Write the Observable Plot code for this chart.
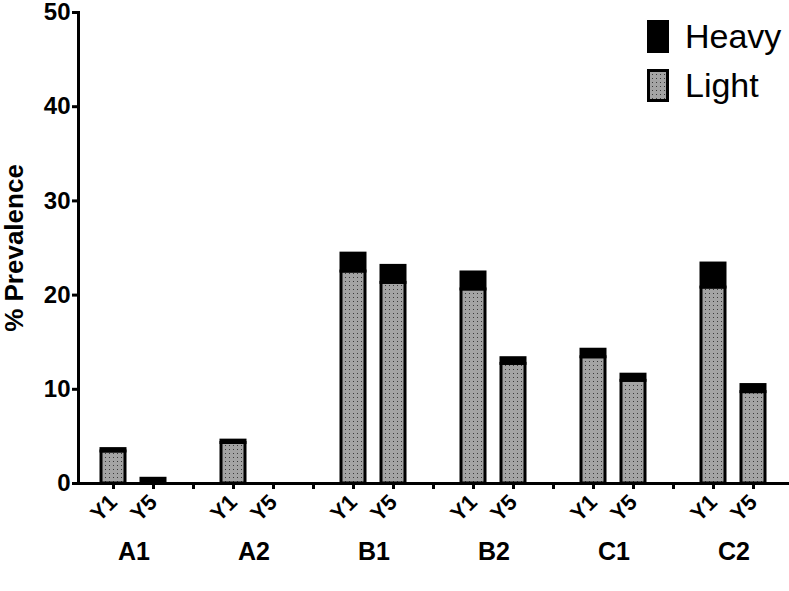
<!DOCTYPE html>
<html>
<head>
<meta charset="utf-8">
<script src="https://cdn.jsdelivr.net/npm/d3@7"></script>
<script src="https://cdn.jsdelivr.net/npm/@observablehq/plot@0.6"></script>
<style>
  html, body { margin: 0; padding: 0; background: #fff; }
  #wrap { position: relative; width: 789px; height: 591px; font-family: "Liberation Sans", Arial, Helvetica, sans-serif; }
  #wrap svg text { font-family: "Liberation Sans", Arial, Helvetica, sans-serif; }
  #legend { position: absolute; left: 647px; top: 12px; }
  .lg-row { display: flex; align-items: center; height: 49px; }
  .lg-row svg { margin-right: 16px; }
  .lg-row span { font-size: 34px; color: #000; }
</style>
</head>
<body>
<div id="wrap">
  <div id="legend">
    <div class="lg-row"><svg width="22" height="33"><rect x="1.5" y="1.5" width="19" height="30" fill="#000" stroke="#000" stroke-width="3"/></svg><span>Heavy</span></div>
    <div class="lg-row"><svg width="22" height="33"><rect x="1.5" y="1.5" width="19" height="30" fill="url(#dots)" stroke="#000" stroke-width="3"/></svg><span>Light</span></div>
  </div>
</div>
<script>
// ---- data ----
const groups = ["A1", "A2", "B1", "B2", "C1", "C2"];
const years = ["Y1", "Y5"];
// values in group order, Y1 then Y5 within each group
const light = [3.4, 0, 4.3, 0, 22.5, 21.3, 20.6, 12.7, 13.4, 10.9, 20.8, 9.7];
const heavy = [0.25, 0.5, 0.25, 0, 1.9, 1.8, 1.8, 0.6, 0.8, 0.65, 2.55, 0.75];
const yTicks = [0, 10, 20, 30, 40, 50];
const seriesNames = ["Light", "Heavy"];

// ---- build slots (Y1, Y5, gap) ----
const slots = [];
groups.forEach((g, i) => {
  years.forEach(y => slots.push(g + " " + y));
  if (i < groups.length - 1) slots.push("gap" + i);
});

const rows = [];
groups.forEach((g, i) => {
  years.forEach((y, j) => {
    const k = i * years.length + j;
    rows.push({slot: g + " " + y, type: "Light", value: light[k]});
  });
});
groups.forEach((g, i) => {
  years.forEach((y, j) => {
    const k = i * years.length + j;
    rows.push({slot: g + " " + y, type: "Heavy", value: heavy[k]});
  });
});
const barRows = rows.filter(d => d.value > 0);

const W = 789, H = 591;
const chart = Plot.plot({
  width: W,
  height: H,
  marginLeft: 78,
  marginRight: 2,
  marginTop: 12,
  marginBottom: 108,
  x: {type: "band", domain: slots, paddingInner: 0.41, paddingOuter: 0.37},
  y: {domain: [0, 50]},
  color: {domain: seriesNames, range: ["url(#dots)", "#000"]},
  marks: [
    Plot.barY(barRows, Plot.stackY({
      x: "slot", y: "value", fill: "type", z: "type",
      stroke: "#000", strokeWidth: 3
    })),
    Plot.axisY({
      ticks: yTicks, tickSize: 6, tickPadding: 2, strokeWidth: 3,
      fontSize: 24, fontWeight: "bold",
      label: "% Prevalence", labelAnchor: "center", labelArrow: "none", labelOffset: 74
    }),
    Plot.axisX({
      tickSize: 6, tickPadding: 9, strokeWidth: 3, tickRotate: -45,
      fontSize: 22, fontWeight: "bold",
      tickFormat: d => d.startsWith("gap") ? "" : d.split(" ")[1],
      label: null
    }),
    Plot.text(groups, {
      x: g => g + " " + years[0], y: () => 0,
      text: g => g, dx: 20.5, dy: 68,
      fontSize: 25, fontWeight: "bold", fill: "#000"
    }),
    Plot.frame({anchor: "left", strokeWidth: 3}),
    Plot.frame({anchor: "bottom", strokeWidth: 3})
  ]
});

const svg = d3.select(chart);
svg.selectAll('g[aria-label="y-axis label"] text')
  .style("font-size", "26px").style("font-weight", "bold");

// dotted fill pattern
const defs = svg.insert("defs", ":first-child");
const pat = defs.append("pattern").attr("id", "dots")
  .attr("patternUnits", "userSpaceOnUse").attr("width", 4).attr("height", 4);
pat.append("rect").attr("width", 4).attr("height", 4).attr("fill", "#a4a4a4");
pat.append("rect").attr("x", 1).attr("y", 1).attr("width", 1).attr("height", 1).attr("fill", "#3a3a3a");

document.getElementById("wrap").prepend(chart);
</script>
</body>
</html>
